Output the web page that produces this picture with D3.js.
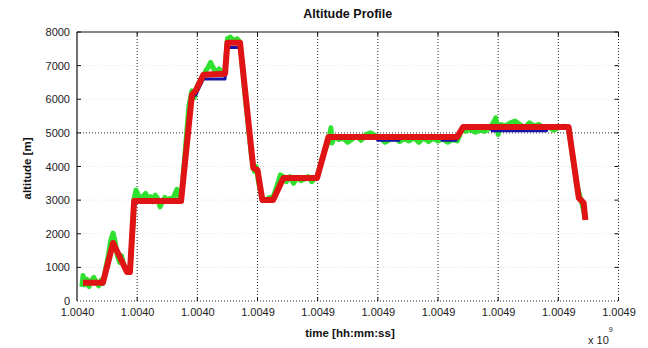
<!DOCTYPE html>
<meta charset="utf-8">
<style>
body {
	margin: 0;
	background-color: white;
}
svg {
	display: block;
	font-family: "Liberation Sans", Arial, sans-serif;
}
.tick-label {
	font-size: 11px;
	fill: #222;
}
.title, .axis-title {
	font-weight: bold;
	fill: #111;
}
</style>
<html>
	<head>
		<title>Altitude Profile</title>
		<script src="https://cdn.jsdelivr.net/npm/d3@7"></script>
	</head>
	<body>
		<svg id="chart"></svg>
<script>
'use strict'

// x values are in tick units (0..9), labels come from xTickLabels
const xTickLabels = ["1.0040", "1.0040", "1.0040", "1.0049", "1.0049",
                     "1.0049", "1.0049", "1.0049", "1.0049", "1.0049"]
const yTicks = [0, 1000, 2000, 3000, 4000, 5000, 6000, 7000, 8000]

// red: filtered altitude
const redT   = [0.10, 0.43, 0.60, 0.83, 0.88, 0.95, 1.73, 1.91, 1.98, 2.10, 2.46, 2.50, 2.71,
                2.93, 3.00, 3.08, 3.26, 3.43, 3.99, 4.18, 6.32, 6.42, 8.17, 8.34, 8.42, 8.45]
const redAlt = [540, 540, 1726, 863, 863, 2976, 2976, 6130, 6280, 6726, 6760, 7680, 7680,
                3958, 3900, 3006, 3006, 3660, 3660, 4881, 4881, 5178, 5178, 3065, 2917, 2410]

// blue: reference altitude
const blueT   = [0.10, 0.43, 0.60, 0.83, 0.88, 0.95, 1.73, 1.91, 1.98, 2.10, 2.46, 2.50, 2.71,
                 2.93, 3.00, 3.08, 3.26, 3.43, 3.99, 4.18, 4.98, 5.00, 5.35, 5.37, 6.05, 6.07,
                 6.30, 6.42, 6.88, 6.90, 7.80, 7.82, 8.17, 8.34, 8.42]
const blueAlt = [520, 520, 1700, 860, 860, 2960, 2960, 6050, 6150, 6600, 6600, 7540, 7540,
                 3950, 3900, 2990, 2990, 3640, 3640, 4860, 4860, 4780, 4780, 4860, 4860, 4780,
                 4780, 5150, 5150, 5060, 5060, 5150, 5150, 3060, 2910]

// green: raw measured altitude
const greenT = [0.08, 0.10, 0.13, 0.16, 0.20, 0.24, 0.28, 0.32, 0.36, 0.40, 0.43, 0.47, 0.52,
                0.56, 0.60, 0.63, 0.67, 0.71, 0.74, 0.78, 0.83, 0.88, 0.92, 0.95, 0.98, 1.02,
                1.06, 1.10, 1.14, 1.18, 1.22, 1.26, 1.30, 1.34, 1.38, 1.42, 1.46, 1.50, 1.54,
                1.58, 1.62, 1.66, 1.70, 1.73, 1.80, 1.86, 1.91, 1.95, 2.00, 2.05, 2.10, 2.14,
                2.18, 2.22, 2.26, 2.30, 2.36, 2.42, 2.46, 2.50, 2.55, 2.60, 2.66, 2.71, 2.80,
                2.90, 2.95, 2.98, 3.02, 3.08, 3.14, 3.20, 3.26, 3.32, 3.38, 3.43, 3.48, 3.54,
                3.60, 3.66, 3.72, 3.78, 3.84, 3.90, 3.96, 3.99, 4.10, 4.18, 4.22, 4.24, 4.28,
                4.35, 4.42, 4.50, 4.58, 4.65, 4.72, 4.80, 4.88, 4.96, 5.04, 5.12, 5.20, 5.28,
                5.36, 5.44, 5.52, 5.60, 5.68, 5.76, 5.84, 5.92, 6.00, 6.08, 6.16, 6.24, 6.32,
                6.40, 6.46, 6.54, 6.62, 6.70, 6.78, 6.86, 6.92, 6.96, 7.00, 7.04, 7.12, 7.20,
                7.28, 7.36, 7.44, 7.52, 7.60, 7.68, 7.76, 7.84, 7.92, 8.00, 8.08, 8.17, 8.30,
                8.40, 8.45]
const greenAlt = [420, 760, 480, 650, 430, 620, 700, 560, 450, 620, 520, 900, 1350,
                  1800, 2020, 1800, 1350, 1150, 1350, 1050, 900, 950, 2000, 3050, 3300, 3150,
                  3050, 3120, 3200, 3050, 3100, 2950, 3150, 3050, 2800, 2950, 3080, 2980, 3050,
                  3020, 3150, 3320, 3050, 3000, 4500, 5800, 6250, 6050, 6400, 6550, 6650, 6850,
                  6950, 7100, 6950, 6800, 6900, 6750, 6850, 7800, 7850, 7750, 7800, 7700, 6000,
                  4300, 3850, 4000, 3500, 3050, 3000, 3080, 3100, 3400, 3750, 3700, 3550, 3700,
                  3500, 3680, 3580, 3620, 3700, 3550, 3650, 3700, 4400, 4750, 5150, 4700, 4900,
                  4800, 4850, 4720, 4820, 4900, 4780, 4950, 5000, 4920, 4850, 4720, 4800, 4850,
                  4740, 4820, 4760, 4860, 4720, 4850, 4740, 4840, 4760, 4820, 4720, 4800, 4760,
                  5100, 5050, 5100, 5020, 5080, 5050, 5150, 5300, 5450, 4950, 5250, 5200, 5300,
                  5350, 5250, 5150, 5300, 5200, 5250, 5100, 5180, 5080, 5150, 5200, 5150, 3500,
                  2850, 2450]

const width = 648, height = 348
const margin = {left: 77, right: 30, top: 32, bottom: 47}

const svg = d3.select("#chart")
	.attr("width", width)
	.attr("height", height)

const x = d3.scaleLinear().domain([0, 9]).range([margin.left, width - margin.right + 0.5])
const y = d3.scaleLinear().domain([0, 8000]).range([height - margin.bottom, margin.top])

const x0 = x.range()[0], x1 = x.range()[1]
const y0 = y.range()[0], y1 = y.range()[1]

// horizontal grid (faint), 5000 drawn darker like the reference
svg.append("g")
	.selectAll("line")
	.data(yTicks.slice(1, -1))
	.enter().append("line")
		.attr("x1", x0).attr("x2", x1)
		.attr("y1", d => y(d)).attr("y2", d => y(d))
		.attr("stroke", d => d === 5000 ? "#333" : "#e2e2e2")
		.attr("stroke-width", 1)
		.attr("stroke-dasharray", "1,2")

// vertical grid
svg.append("g")
	.selectAll("line")
	.data(d3.range(1, 9))
	.enter().append("line")
		.attr("x1", d => x(d)).attr("x2", d => x(d))
		.attr("y1", y0).attr("y2", y1)
		.attr("stroke", "#222")
		.attr("stroke-width", 1)
		.attr("stroke-dasharray", "1,2")

// data lines: green, blue, red
const line = d3.line()
	.x(d => x(d[0]))
	.y(d => y(d[1]))

const series = [
	{t: greenT, a: greenAlt, color: "#2fe02f", w: 5},
	{t: blueT, a: blueAlt, color: "#1414a8", w: 3},
	{t: redT, a: redAlt, color: "#e01414", w: 6}
]
series.forEach(s => {
	svg.append("path")
		.datum(d3.zip(s.t, s.a))
		.attr("d", line)
		.attr("fill", "none")
		.attr("stroke", s.color)
		.attr("stroke-width", s.w)
		.attr("stroke-linejoin", "round")
		.attr("stroke-linecap", "butt")
})

// axes box: top and left solid, bottom and right dotted
svg.append("line").attr("x1", x0).attr("x2", x1).attr("y1", y1).attr("y2", y1)
	.attr("stroke", "#111").attr("stroke-width", 1.2)
svg.append("line").attr("x1", x0).attr("x2", x0).attr("y1", y0).attr("y2", y1)
	.attr("stroke", "#111").attr("stroke-width", 1.2)
svg.append("line").attr("x1", x0).attr("x2", x1).attr("y1", y0).attr("y2", y0)
	.attr("stroke", "#222").attr("stroke-dasharray", "1,2")
svg.append("line").attr("x1", x1).attr("x2", x1).attr("y1", y0).attr("y2", y1)
	.attr("stroke", "#222").attr("stroke-dasharray", "1,2")

// bottom axis
const xAxis = d3.axisBottom(x)
	.tickValues(d3.range(0, 10))
	.tickSize(0)
	.tickPadding(7)
	.tickFormat((d, i) => xTickLabels[i])
const gx = svg.append("g")
	.attr("transform", "translate(0," + y0 + ")")
	.call(xAxis)
gx.select(".domain").remove()
gx.selectAll("text").attr("class", "tick-label").attr("fill", null)
	.style("font-family", "Liberation Sans, Arial, sans-serif").style("font-size", "11px")

// left axis
const yAxis = d3.axisLeft(y)
	.tickValues(yTicks)
	.tickSize(0)
	.tickPadding(7)
	.tickFormat(d3.format("d"))
const gy = svg.append("g")
	.attr("transform", "translate(" + x0 + ",0)")
	.call(yAxis)
gy.select(".domain").remove()
gy.selectAll("text").attr("class", "tick-label").attr("fill", null)
	.style("font-family", "Liberation Sans, Arial, sans-serif").style("font-size", "11px")

// inward tick marks on all four sides
const tickLen = 4
const marks = svg.append("g").attr("stroke", "#111").attr("stroke-width", 1)
d3.range(1, 10).forEach(d => {
	marks.append("line").attr("x1", x(d)).attr("x2", x(d)).attr("y1", y1).attr("y2", y1 + tickLen)
	marks.append("line").attr("x1", x(d)).attr("x2", x(d)).attr("y1", y0).attr("y2", y0 - tickLen)
})
yTicks.slice(1).forEach(d => {
	marks.append("line").attr("x1", x0).attr("x2", x0 + tickLen).attr("y1", y(d)).attr("y2", y(d))
	marks.append("line").attr("x1", x1).attr("x2", x1 - tickLen).attr("y1", y(d)).attr("y2", y(d))
})

// exponent label
const expo = svg.append("text")
	.attr("x", 588)
	.attr("y", 344)
	.attr("class", "tick-label")
expo.append("tspan").text("x 10")
expo.append("tspan").attr("dy", -12).style("font-size", "7px").text("9")

// titles
svg.append("text")
	.attr("class", "title")
	.attr("x", (x0 + x1) / 2)
	.attr("y", 18)
	.attr("text-anchor", "middle")
	.style("font-size", "12.5px")
	.text("Altitude Profile")

svg.append("text")
	.attr("class", "axis-title")
	.attr("x", 350)
	.attr("y", 337)
	.attr("text-anchor", "middle")
	.style("font-size", "11.5px")
	.text("time [hh:mm:ss]")

svg.append("text")
	.attr("class", "axis-title")
	.attr("transform", "translate(31," + ((y0 + y1) / 2 + 2) + ") rotate(-90)")
	.attr("text-anchor", "middle")
	.style("font-size", "11.5px")
	.text("altitude [m]")
</script>
	</body>
</html>
